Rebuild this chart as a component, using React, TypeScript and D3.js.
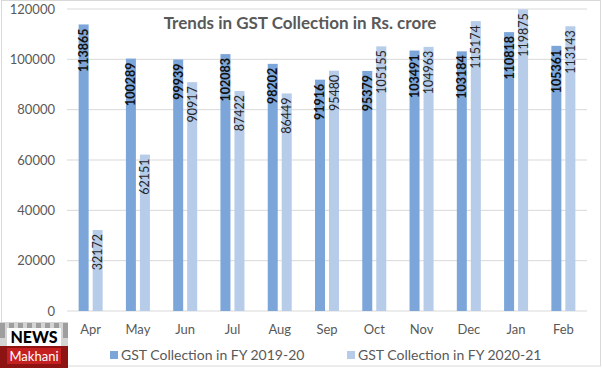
import React from 'react';
import * as d3 from 'd3';

// ---- data ----
const months = ['Apr', 'May', 'Jun', 'Jul', 'Aug', 'Sep', 'Oct', 'Nov', 'Dec', 'Jan', 'Feb'];
const fy1920 = [113865, 100289, 99939, 102083, 98202, 91916, 95379, 103491, 103184, 110818, 105361];
const fy2021 = [32172, 62151, 90917, 87422, 86449, 95480, 105155, 104963, 115174, 119875, 113143];
const seriesNames = ['GST Collection in FY 2019-20', 'GST Collection in FY 2020-21'];
const yTicks = [0, 20000, 40000, 60000, 80000, 100000, 120000];
const title = 'Trends in GST Collection in Rs. crore';

const W = 602;
const H = 368;
const font = 'Lato, "Open Sans", sans-serif';
const colors = ['#7ca6d9', '#b6cce9'];

export default function App() {
  const x0 = d3.scaleBand<string>().domain(months).range([67, 587]).padding(0);
  const x1 = d3.scaleBand<string>().domain(seriesNames).range([-12, 12]).paddingInner(0.286);
  const y = d3.scaleLinear().domain([0, 120000]).range([311, 9]);

  const series = [fy1920, fy2021];

  return (
    <svg width={W} height={H} style={{ position: 'absolute', left: 0, top: 0, background: '#fff' }}
      fontFamily={font}>
      <rect x={1.5} y={0.5} width={W - 3} height={H - 2.5} fill="#fff" stroke="#d9d9d9" />

      {/* grid + y labels */}
      {yTicks.map(t => (
        <g key={t}>
          <line x1={67} x2={587} y1={y(t)} y2={y(t)} stroke="#d9d9d9" strokeWidth={1} />
          <text x={55} y={y(t)} dy="0.35em" textAnchor="end" fontSize={13} fill="#595959">{t}</text>
        </g>
      ))}

      {/* bars */}
      {series.map((vals, si) => (
        <g key={si}>
          {vals.map((v, i) => {
            const bx = x0(months[i])! + x0.bandwidth() / 2 + x1(seriesNames[si])!;
            return (
              <rect key={i} x={bx} y={y(v)} width={x1.bandwidth()} height={y(0) - y(v)} fill={colors[si]} />
            );
          })}
        </g>
      ))}

      {/* value labels */}
      {series.map((vals, si) => (
        <g key={'l' + si}>
          {vals.map((v, i) => {
            const cx = x0(months[i])! + x0.bandwidth() / 2 + x1(seriesNames[si])! + x1.bandwidth() / 2;
            const ty = y(v) + 4;
            return (
              <text key={i} transform={`translate(${cx},${ty}) rotate(-90)`} textAnchor="end" dy="0.36em"
                fontSize={12.5} fontWeight={si === 0 ? 'bold' : 'normal'} fill={si === 0 ? '#111' : '#262626'}>
                {v}
              </text>
            );
          })}
        </g>
      ))}

      {/* x labels */}
      {months.map(m => (
        <text key={m} x={x0(m)! + x0.bandwidth() / 2} y={334} textAnchor="middle" fontSize={13} fill="#595959">{m}</text>
      ))}

      {/* title */}
      <text x={300} y={29} textAnchor="middle" fontSize={17} fontWeight="bold" fill="#595959">{title}</text>

      {/* legend */}
      {seriesNames.map((s, i) => {
        const lx = i === 0 ? 110 : 347;
        return (
          <g key={s}>
            <rect x={lx} y={351} width={8} height={8} fill={colors[i]} />
            <text x={lx + 11} y={360} fontSize={14} fill="#595959">{s}</text>
          </g>
        );
      })}

      {/* watermark logo */}
      <g>
        <rect x={0} y={322} width={68} height={24} fill="#d4d4d4" />
        {[0, 9, 18, 27, 36, 45, 54, 63].map(o => (
          <rect key={o} x={o} y={323} width={5} height={15} fill="#7a7a7a" opacity={0.6} />
        ))}
        <rect x={7} y={328} width={54} height={18} fill="#fff" />
        <text x={34} y={343} textAnchor="middle" fontSize={16} fontWeight="900" fill="#000">NEWS</text>
        <rect x={0} y={346} width={68} height={22} fill="#8e1414" />
        <rect x={7} y={348} width={54} height={16} fill="#c42020" />
        <text x={34} y={361} textAnchor="middle" fontSize={13} fill="#fff">Makhani</text>
      </g>
    </svg>
  );
}
